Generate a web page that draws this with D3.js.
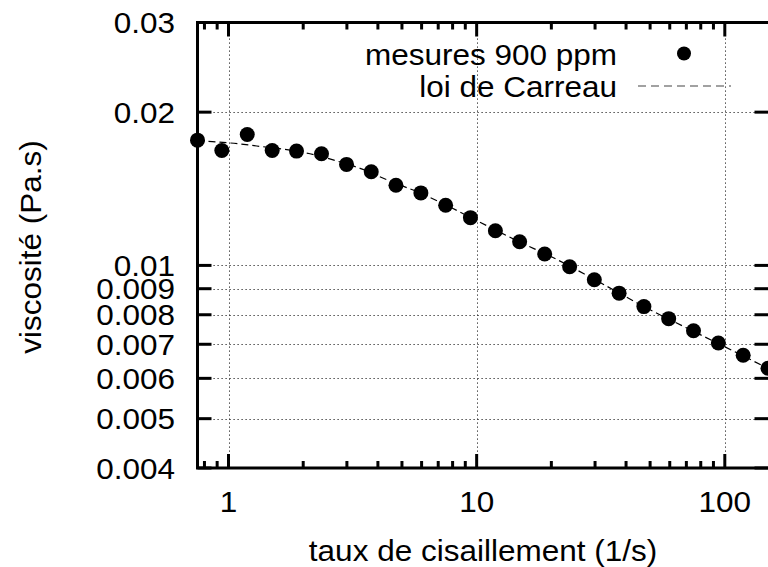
<!DOCTYPE html>
<html>
<head>
<meta charset="utf-8">
<script src="https://cdn.jsdelivr.net/npm/d3@7"></script>
<style>
  html, body { margin: 0; padding: 0; background: #fff; }
  svg text { font-family: "Liberation Sans", Arial, sans-serif; font-size: 30px; fill: #000; }
</style>
</head>
<body>
<svg id="chart" width="768" height="567"></svg>
<script>
// Measured points (shear rate in 1/s, viscosity in Pa.s)
const shearRate = [0.75, 0.94, 1.19, 1.5, 1.88, 2.37, 2.99, 3.76, 4.73, 5.96, 7.5, 9.44,
  11.9, 14.9, 18.8, 23.7, 29.8, 37.5, 47.2, 59.4, 74.8, 94.2, 118.6, 149.3];
const viscosity = [0.01762, 0.01682, 0.01808, 0.01682, 0.01677, 0.01657, 0.01579, 0.01527,
  0.01437, 0.01388, 0.01313, 0.01241, 0.01170, 0.01113, 0.01053, 0.00994, 0.00937, 0.00882,
  0.00830, 0.00786, 0.00744, 0.00704, 0.00666, 0.00628];

// Carreau fit
const carreauX = [0.75, 0.86, 1.09, 1.3, 1.69, 2.13, 2.66, 3.39, 4.36, 5.96, 7.5, 10, 15,
  20, 30, 50, 70, 100, 150];
const carreauY = [0.01758, 0.01750, 0.01734, 0.01716, 0.01690, 0.01657, 0.01610, 0.01551,
  0.01472, 0.01385, 0.01315, 0.01225, 0.01110, 0.01040, 0.00937, 0.00818, 0.00754, 0.00692,
  0.00627];

// Tick values
const xMajor = [1, 10, 100];
const xMinor = [0.8, 0.9, 2, 3, 4, 5, 6, 7, 8, 9, 20, 30, 40, 50, 60, 70, 80, 90];
const yTicks = [0.03, 0.02, 0.01, 0.009, 0.008, 0.007, 0.006, 0.005, 0.004];
const yGrid = [0.02, 0.01, 0.009, 0.008, 0.007, 0.006, 0.005];

// plot frame (right side falls just off the picture)
const frame = { left: 197.5, right: 768.5, top: 22.5, bottom: 468 };
const sx = 1.05; // fonts are slightly wider than tall in the original

const svg = d3.select("#chart");

const x = d3.scaleLog().domain([0.75, 150]).range([frame.left, frame.right]);
const y = d3.scaleLog().domain([0.004, 0.03]).range([frame.bottom, frame.top]);

// Grid
const grid = svg.append("g")
  .attr("stroke", "#222")
  .attr("stroke-width", 1)
  .attr("stroke-dasharray", "1.2,2.8");

grid.selectAll(".gx").data(xMajor).enter().append("line")
  .attr("x1", (d) => Math.round(x(d)) + 0.5).attr("x2", (d) => Math.round(x(d)) + 0.5)
  .attr("y1", frame.top).attr("y2", frame.bottom);

grid.selectAll(".gy").data(yGrid).enter().append("line")
  .attr("x1", frame.left).attr("x2", frame.right)
  .attr("y1", (d) => Math.round(y(d)) + 0.5).attr("y2", (d) => Math.round(y(d)) + 0.5);

// Ticks on all four sides (gnuplot style, pointing inwards)
const ticks = svg.append("g").attr("stroke", "#000").attr("stroke-width", 3);

function xTicks(data, len) {
  ticks.selectAll(null).data(data).enter().append("line")
    .attr("x1", (d) => x(d)).attr("x2", (d) => x(d))
    .attr("y1", frame.bottom).attr("y2", frame.bottom - len);
  ticks.selectAll(null).data(data).enter().append("line")
    .attr("x1", (d) => x(d)).attr("x2", (d) => x(d))
    .attr("y1", frame.top).attr("y2", frame.top + len);
}
xTicks(xMajor, 14);
xTicks(xMinor, 7);

ticks.selectAll(null).data(yTicks).enter().append("line")
  .attr("x1", frame.left).attr("x2", frame.left + 14)
  .attr("y1", (d) => y(d)).attr("y2", (d) => y(d));
ticks.selectAll(null).data(yTicks).enter().append("line")
  .attr("x1", frame.right).attr("x2", frame.right - 14)
  .attr("y1", (d) => y(d)).attr("y2", (d) => y(d));

// Border
svg.append("path")
  .attr("d", `M${frame.right},${frame.top}H${frame.left}V${frame.bottom}H${frame.right}`)
  .attr("fill", "none")
  .attr("stroke", "#000")
  .attr("stroke-width", 3);

// Tick labels
svg.append("g").selectAll("text").data(yTicks).enter().append("text")
  .attr("transform", (d) => `translate(175, ${y(d) + 10.5}) scale(${sx},1)`)
  .attr("text-anchor", "end")
  .text((d) => String(d));

svg.append("g").selectAll("text").data(xMajor).enter().append("text")
  .attr("transform", (d) => `translate(${x(d)}, 512) scale(${sx},1)`)
  .attr("text-anchor", "middle")
  .text((d) => String(d));

// Axis titles
svg.append("text")
  .attr("transform", `translate(${(frame.left + frame.right) / 2}, 561) scale(${sx},1)`)
  .attr("text-anchor", "middle")
  .text("taux de cisaillement (1/s)");

svg.append("text")
  .attr("transform", `translate(41, 247) rotate(-90) scale(${sx},1)`)
  .attr("text-anchor", "middle")
  .text("viscosité (Pa.s)");

const plot = svg.append("g");

// Carreau curve
const line = d3.line()
  .x((d) => x(d[0]))
  .y((d) => y(d[1]))
  .curve(d3.curveMonotoneX);

plot.append("path")
  .datum(carreauX.map((v, i) => [v, carreauY[i]]))
  .attr("d", line)
  .attr("fill", "none")
  .attr("stroke", "#000")
  .attr("stroke-width", 1.2)
  .attr("stroke-dasharray", "7,4");

// Measured points
plot.selectAll("circle").data(shearRate).enter().append("circle")
  .attr("cx", (d) => x(d))
  .attr("cy", (d, i) => y(viscosity[i]))
  .attr("r", 7.5)
  .attr("fill", "#000");

// Legend
const legend = svg.append("g");
legend.append("text")
  .attr("transform", `translate(617, 64.5) scale(${sx},1)`)
  .attr("text-anchor", "end")
  .text("mesures 900 ppm");
legend.append("circle")
  .attr("cx", 684).attr("cy", 53.5).attr("r", 7).attr("fill", "#000");
legend.append("text")
  .attr("transform", `translate(617, 97) scale(${sx},1)`)
  .attr("text-anchor", "end")
  .text("loi de Carreau");
legend.append("line")
  .attr("x1", 638).attr("x2", 731).attr("y1", 86).attr("y2", 86)
  .attr("stroke", "#444")
  .attr("stroke-width", 1.2)
  .attr("stroke-dasharray", "8,5");
</script>
</body>
</html>
